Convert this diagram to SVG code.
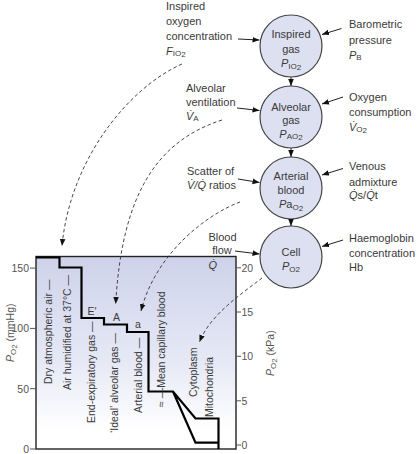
<svg xmlns="http://www.w3.org/2000/svg" width="420" height="454" viewBox="0 0 420 454">
<style>
text{font-family:"Liberation Sans",Arial,sans-serif;font-size:11px;fill:#3a3a3a}
.c{text-anchor:middle}
.t{font-size:10.5px}
.g{fill:#555}
.e{text-anchor:end}
.i{font-style:italic}
.s{font-size:8px;font-style:normal}
.node circle{fill:#dde0f0;stroke:#444;stroke-width:1.2}
.arr{stroke:#222;stroke-width:1;fill:none;marker-end:url(#ah)}
.dash{stroke:#333;stroke-width:0.9;fill:none;stroke-dasharray:3.5 2.5;marker-end:url(#ah)}
.tick{stroke:#555;stroke-width:1}
</style>
<defs>
<marker id="ah" viewBox="0 0 10 10" refX="10" refY="5" markerWidth="7" markerHeight="7" markerUnits="userSpaceOnUse" orient="auto">
<path d="M0,1 L10,5 L0,9 z" fill="#111"/>
</marker>
<linearGradient id="bg" x1="0" y1="0" x2="0" y2="1">
<stop offset="0" stop-color="#cdd2ea"/>
<stop offset="0.55" stop-color="#e6e9f5"/>
<stop offset="0.9" stop-color="#ffffff"/>
</linearGradient>
</defs>

<g id="chart">
<rect x="36" y="256.5" width="200" height="192.5" fill="url(#bg)" stroke="#222" stroke-width="1.4"/>
<path d="M36,257.5 H59.5 V267.5 H81.5 V318 H104 V324.5 H127 V332 H148.5 V391.5 H173 L195.5,418.5 H218.5 V449 M173,391.5 L195.5,442.7 H218.5" fill="none" stroke="#000" stroke-width="2.2" stroke-linejoin="miter"/>
<g class="tick">
<line x1="30" y1="268.1" x2="36" y2="268.1"/>
<line x1="30" y1="328.4" x2="36" y2="328.4"/>
<line x1="30" y1="388.7" x2="36" y2="388.7"/>
<line x1="30" y1="449" x2="36" y2="449"/>
<line x1="236" y1="267.8" x2="241" y2="267.8"/>
<line x1="236" y1="312" x2="241" y2="312"/>
<line x1="236" y1="356.3" x2="241" y2="356.3"/>
<line x1="236" y1="400.8" x2="241" y2="400.8"/>
<line x1="236" y1="445" x2="241" y2="445"/>
</g>
<text class="t e g" x="29" y="272">150</text>
<text class="t e g" x="29" y="332.2">100</text>
<text class="t e g" x="29" y="392.5">50</text>
<text class="t e g" x="29" y="452.8">0</text>
<text class="t g" x="241.5" y="271.6">20</text>
<text class="t g" x="241.5" y="315.8">15</text>
<text class="t g" x="241.5" y="360.1">10</text>
<text class="t g" x="241.5" y="404.6">5</text>
<text class="t g" x="241.5" y="448.8">0</text>
<text class="t g" transform="translate(14,362) rotate(-90)"><tspan class="i">P</tspan><tspan class="s" dy="2">O</tspan><tspan class="s" font-size="6.5" dy="1">2</tspan><tspan dy="-3"> (mmHg)</tspan></text>
<text class="t g" transform="translate(274,376) rotate(-90)"><tspan class="i">P</tspan><tspan class="s" dy="2">O</tspan><tspan class="s" font-size="6.5" dy="1">2</tspan><tspan dy="-3"> (kPa)</tspan></text>
<text class="t" transform="translate(51.5,384) rotate(-90)">Dry atmospheric air —</text>
<text class="t" transform="translate(71,390) rotate(-90)">Air humidified at 37°C —</text>
<text class="t" transform="translate(94.5,423) rotate(-90)">End-expiratory gas —</text>
<text class="t" transform="translate(117.5,433) rotate(-90)">‘Ideal’ alveolar gas —</text>
<text class="t" transform="translate(141.5,413) rotate(-90)">Arterial blood —</text>
<text class="t" transform="translate(165,407) rotate(-90)">≈ —Mean capillary blood</text>
<text class="t" transform="translate(196.5,397) rotate(-90)">Cytoplasm</text>
<text class="t" transform="translate(212.5,417) rotate(-90)">Mitochondria</text>
<text class="t c" x="92" y="315">E′</text>
<text class="t c" x="116.5" y="321">A</text>
<text class="t c" x="138" y="328">a</text>
</g>

<g id="node-inspired" class="node">
<circle cx="291" cy="46" r="31"/>
<text class="c" x="291" y="38">Inspired</text>
<text class="c" x="291" y="53">gas</text>
<text class="c" x="291" y="67"><tspan class="i">P</tspan><tspan class="s" dy="1.5">IO</tspan><tspan class="s" font-size="6" dy="1">2</tspan></text>
</g>
<g id="node-alveolar" class="node">
<circle cx="291" cy="117" r="31"/>
<text class="c" x="291" y="110.5">Alveolar</text>
<text class="c" x="291" y="124">gas</text>
<text class="c" x="291" y="137.5"><tspan class="i">P</tspan><tspan class="s" dy="1.5">AO</tspan><tspan class="s" font-size="6" dy="1">2</tspan></text>
</g>
<g id="node-arterial" class="node">
<circle cx="291" cy="188" r="31"/>
<text class="c" x="291" y="180">Arterial</text>
<text class="c" x="291" y="194">blood</text>
<text class="c" x="291" y="208"><tspan class="i">P</tspan>a<tspan class="s" dy="1.5">O</tspan><tspan class="s" font-size="6" dy="1">2</tspan></text>
</g>
<g id="node-cell" class="node">
<circle cx="291" cy="257" r="31"/>
<text class="c" x="291" y="255.5">Cell</text>
<text class="c" x="291" y="270"><tspan class="i">P</tspan><tspan class="s" dy="1.5">O</tspan><tspan class="s" font-size="7" dy="0.5">2</tspan></text>
</g>

<g id="labels">
<text x="166" y="10">Inspired</text>
<text x="166" y="25">oxygen</text>
<text x="166" y="40">concentration</text>
<text x="166" y="55"><tspan class="i">F</tspan><tspan class="s" dy="1">IO</tspan><tspan class="s" font-size="6" dy="1">2</tspan></text>
<text x="349" y="28">Barometric</text>
<text x="349" y="44">pressure</text>
<text x="349" y="59"><tspan class="i">P</tspan><tspan class="s" dy="1">B</tspan></text>
<text x="186" y="91.5">Alveolar</text>
<text x="186" y="105.5">ventilation</text>
<text x="186" y="120"><tspan class="i">V̇</tspan><tspan class="s" dy="1">A</tspan></text>
<text x="349" y="101">Oxygen</text>
<text x="349" y="116">consumption</text>
<text x="349" y="131"><tspan class="i">V̇</tspan><tspan class="s" dy="1">O</tspan><tspan class="s" font-size="6.5" dy="1">2</tspan></text>
<text x="187" y="175">Scatter of</text>
<text x="187" y="188.5"><tspan class="i">V̇/Q̇</tspan> ratios</text>
<text x="349" y="169.5">Venous</text>
<text x="349" y="185.5">admixture</text>
<text x="349" y="199"><tspan class="i">Q̇</tspan>s/<tspan class="i">Q̇</tspan>t</text>
<text class="c" x="222.5" y="240.5">Blood</text>
<text class="c" x="222" y="254">flow</text>
<text x="208.5" y="269"><tspan class="i">Q̇</tspan></text>
<text x="349" y="242">Haemoglobin</text>
<text x="349" y="256.5">concentration</text>
<text x="349" y="271">Hb</text>
</g>

<g id="connectors">
<line class="arr" x1="291" y1="77" x2="291" y2="86"/>
<line class="arr" x1="291" y1="148" x2="291" y2="157"/>
<line class="arr" x1="291" y1="219" x2="291" y2="226"/>
<line class="arr" x1="238" y1="39" x2="259.5" y2="40"/>
<line class="arr" x1="341.5" y1="28.5" x2="322" y2="34.5"/>
<line class="arr" x1="237" y1="108" x2="259.5" y2="110.5"/>
<line class="arr" x1="343" y1="97" x2="322" y2="104"/>
<line class="arr" x1="238" y1="179" x2="259.5" y2="182.5"/>
<line class="arr" x1="343" y1="168.5" x2="322" y2="175"/>
<line class="arr" x1="235" y1="251" x2="259.5" y2="254"/>
<line class="arr" x1="343" y1="240" x2="322" y2="246.5"/>
<path class="dash" d="M182,64 C128,88 70,160 62,246"/>
<path class="dash" d="M222,120 C160,140 122,190 115.7,304"/>
<path class="dash" d="M240,202 C205,215 155,255 141,311"/>
<path class="dash" d="M262,278 C240,295 210,315 199.5,342"/>
</g>
</svg>
